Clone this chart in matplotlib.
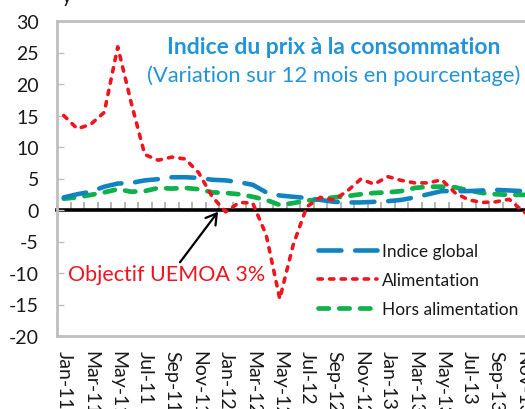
import matplotlib
matplotlib.use("Agg")
import matplotlib.pyplot as plt
import numpy as np

plt.rcParams['font.family'] = ['Lato', 'DejaVu Sans']
plt.rcParams['axes.unicode_minus'] = False

months = ["Jan-11", "Feb-11", "Mar-11", "Apr-11", "May-11", "Jun-11", "Jul-11", "Aug-11",
          "Sep-11", "Oct-11", "Nov-11", "Dec-11",
          "Jan-12", "Feb-12", "Mar-12", "Apr-12", "May-12", "Jun-12", "Jul-12", "Aug-12",
          "Sep-12", "Oct-12", "Nov-12", "Dec-12",
          "Jan-13", "Feb-13", "Mar-13", "Apr-13", "May-13", "Jun-13", "Jul-13", "Aug-13",
          "Sep-13", "Oct-13", "Nov-13", "Dec-13"]

indice_global = [2.0, 2.5, 2.9, 3.7, 4.2, 4.3, 4.7, 4.9, 5.2, 5.2, 5.1, 4.8,
                 4.7, 4.4, 4.0, 2.8, 2.3, 2.1, 1.9, 1.6, 1.3, 1.2, 1.2, 1.3,
                 1.4, 1.6, 2.0, 2.5, 3.0, 3.0, 3.0, 3.1, 3.2, 3.1, 3.0, 2.9]

alimentation = [15.0, 12.9, 13.6, 15.5, 25.9, 17.0, 8.8, 7.9, 8.4, 8.1, 5.9, 2.1,
                -0.3, 1.2, 1.1, -4.0, -14.1, -5.5, 0.5, 2.0, 1.6, 3.0, 4.9, 4.1,
                5.3, 4.7, 4.3, 4.3, 4.8, 2.7, 1.6, 1.2, 1.3, 1.7, -0.2, -1.5]

hors_alimentation = [1.8, 2.0, 2.4, 2.8, 3.3, 2.9, 3.0, 3.5, 3.4, 3.5, 3.3, 2.8,
                     2.7, 2.5, 2.1, 1.6, 0.8, 1.1, 1.5, 1.7, 2.0, 2.2, 2.5, 2.7,
                     2.8, 3.0, 3.5, 3.7, 3.7, 3.6, 3.1, 2.7, 2.5, 2.4, 2.4, 2.4]

series_names = ["Indice global", "Alimentation", "Hors alimentation"]
title = "Indice du prix à la consommation"
subtitle = "(Variation sur 12 mois en pourcentage)"
annotation = "Objectif UEMOA 3%"

W, H = 525, 410
fig = plt.figure(figsize=(W / 100, H / 100), dpi=100)
fig.patch.set_facecolor("white")
n = len(months)
ax_rect = [57 / W, 73 / H, (13.5 * n) / W, 315 / H]
ax = fig.add_axes(ax_rect)

x = np.arange(n)
gray = "#BFBFBF"
c_blue = "#1184C0"
c_red = "#F0141E"
c_green = "#10B04C"

ymin, ymax = -20, 30

# zero axis with category tick marks (separate thin axes at y = 0)
zero_frac = (0 - ymin) / (ymax - ymin)
ax0 = fig.add_axes([ax_rect[0], ax_rect[1] + zero_frac * ax_rect[3], ax_rect[2], 1e-6])
ax0.set_xlim(-0.5, n - 0.5)
ax0.patch.set_visible(False)
for k in ["top", "left", "right"]:
    ax0.spines[k].set_visible(False)
ax0.spines["bottom"].set_color("black")
ax0.spines["bottom"].set_linewidth(2.6)
ax0.set_yticks([])
ax0.set_xticks(np.arange(-0.5, n, 1))
ax0.tick_params(axis="x", direction="in", length=6, width=1.3, color="#B0B0B0",
                labelbottom=False)
ax0.set_zorder(1)

ax.set_zorder(2)
ax.patch.set_visible(False)

l1, = ax.plot(x, indice_global, color=c_blue, lw=3.3, dashes=(5, 3.0),
              dash_capstyle="round", label=series_names[0], zorder=4)
l2, = ax.plot(x, alimentation, color=c_red, lw=2.6, dashes=(1.2, 2.0),
              dash_capstyle="round", label=series_names[1], zorder=5)
l3, = ax.plot(x, hors_alimentation, color=c_green, lw=3.4, dashes=(2.2, 2.2),
              dash_capstyle="round", label=series_names[2], zorder=3)

ax.set_xlim(-0.5, n - 0.5)
ax.set_ylim(ymin, ymax)
ax.set_yticks(np.arange(-20, 31, 5))
ax.tick_params(axis="y", direction="in", length=5, width=1, color=gray,
               labelsize=14, labelcolor="#1a1a1a", pad=13)
ax.set_xticks(x[::2])
ax.set_xticklabels(months[::2], rotation=-90, fontsize=14, color="#1a1a1a")
ax.tick_params(axis="x", length=0, pad=10)
for s in ax.spines.values():
    s.set_color(gray)
    s.set_linewidth(2)

leg = ax.legend(handles=[l1, l2, l3], loc="center left",
                bbox_to_anchor=(318 / W, 1 - 281 / H), bbox_transform=fig.transFigure,
                frameon=False, borderpad=0, borderaxespad=0, handlelength=3.4,
                handletextpad=0.3, labelspacing=0.75, fontsize=12.5)
for t in leg.get_texts():
    t.set_color("#1a1a1a")

fig.text(334 / W, 1 - 48 / H, title, ha="center", va="center", fontsize=16.5,
         fontweight="bold", color="#2394D6")
fig.text(334 / W, 1 - 76 / H, subtitle, ha="center", va="center", fontsize=15.8,
         color="#2394D6")

ax.text(7.6, -10.1, annotation, ha="center", va="center", fontsize=15.5, color=c_red)
ax.annotate("", xy=(11.43, -0.27), xytext=(8.61, -8.3),
            arrowprops=dict(arrowstyle="->,head_length=0.5,head_width=0.3",
                            color="black", lw=1.6, shrinkA=0, shrinkB=0,
                            mutation_scale=15), zorder=6)

fig.text(67 / W, 1 - 3 / H, "y", ha="center", va="baseline", fontsize=14, color="#1a1a1a")

fig.savefig("out.png", dpi=100)
